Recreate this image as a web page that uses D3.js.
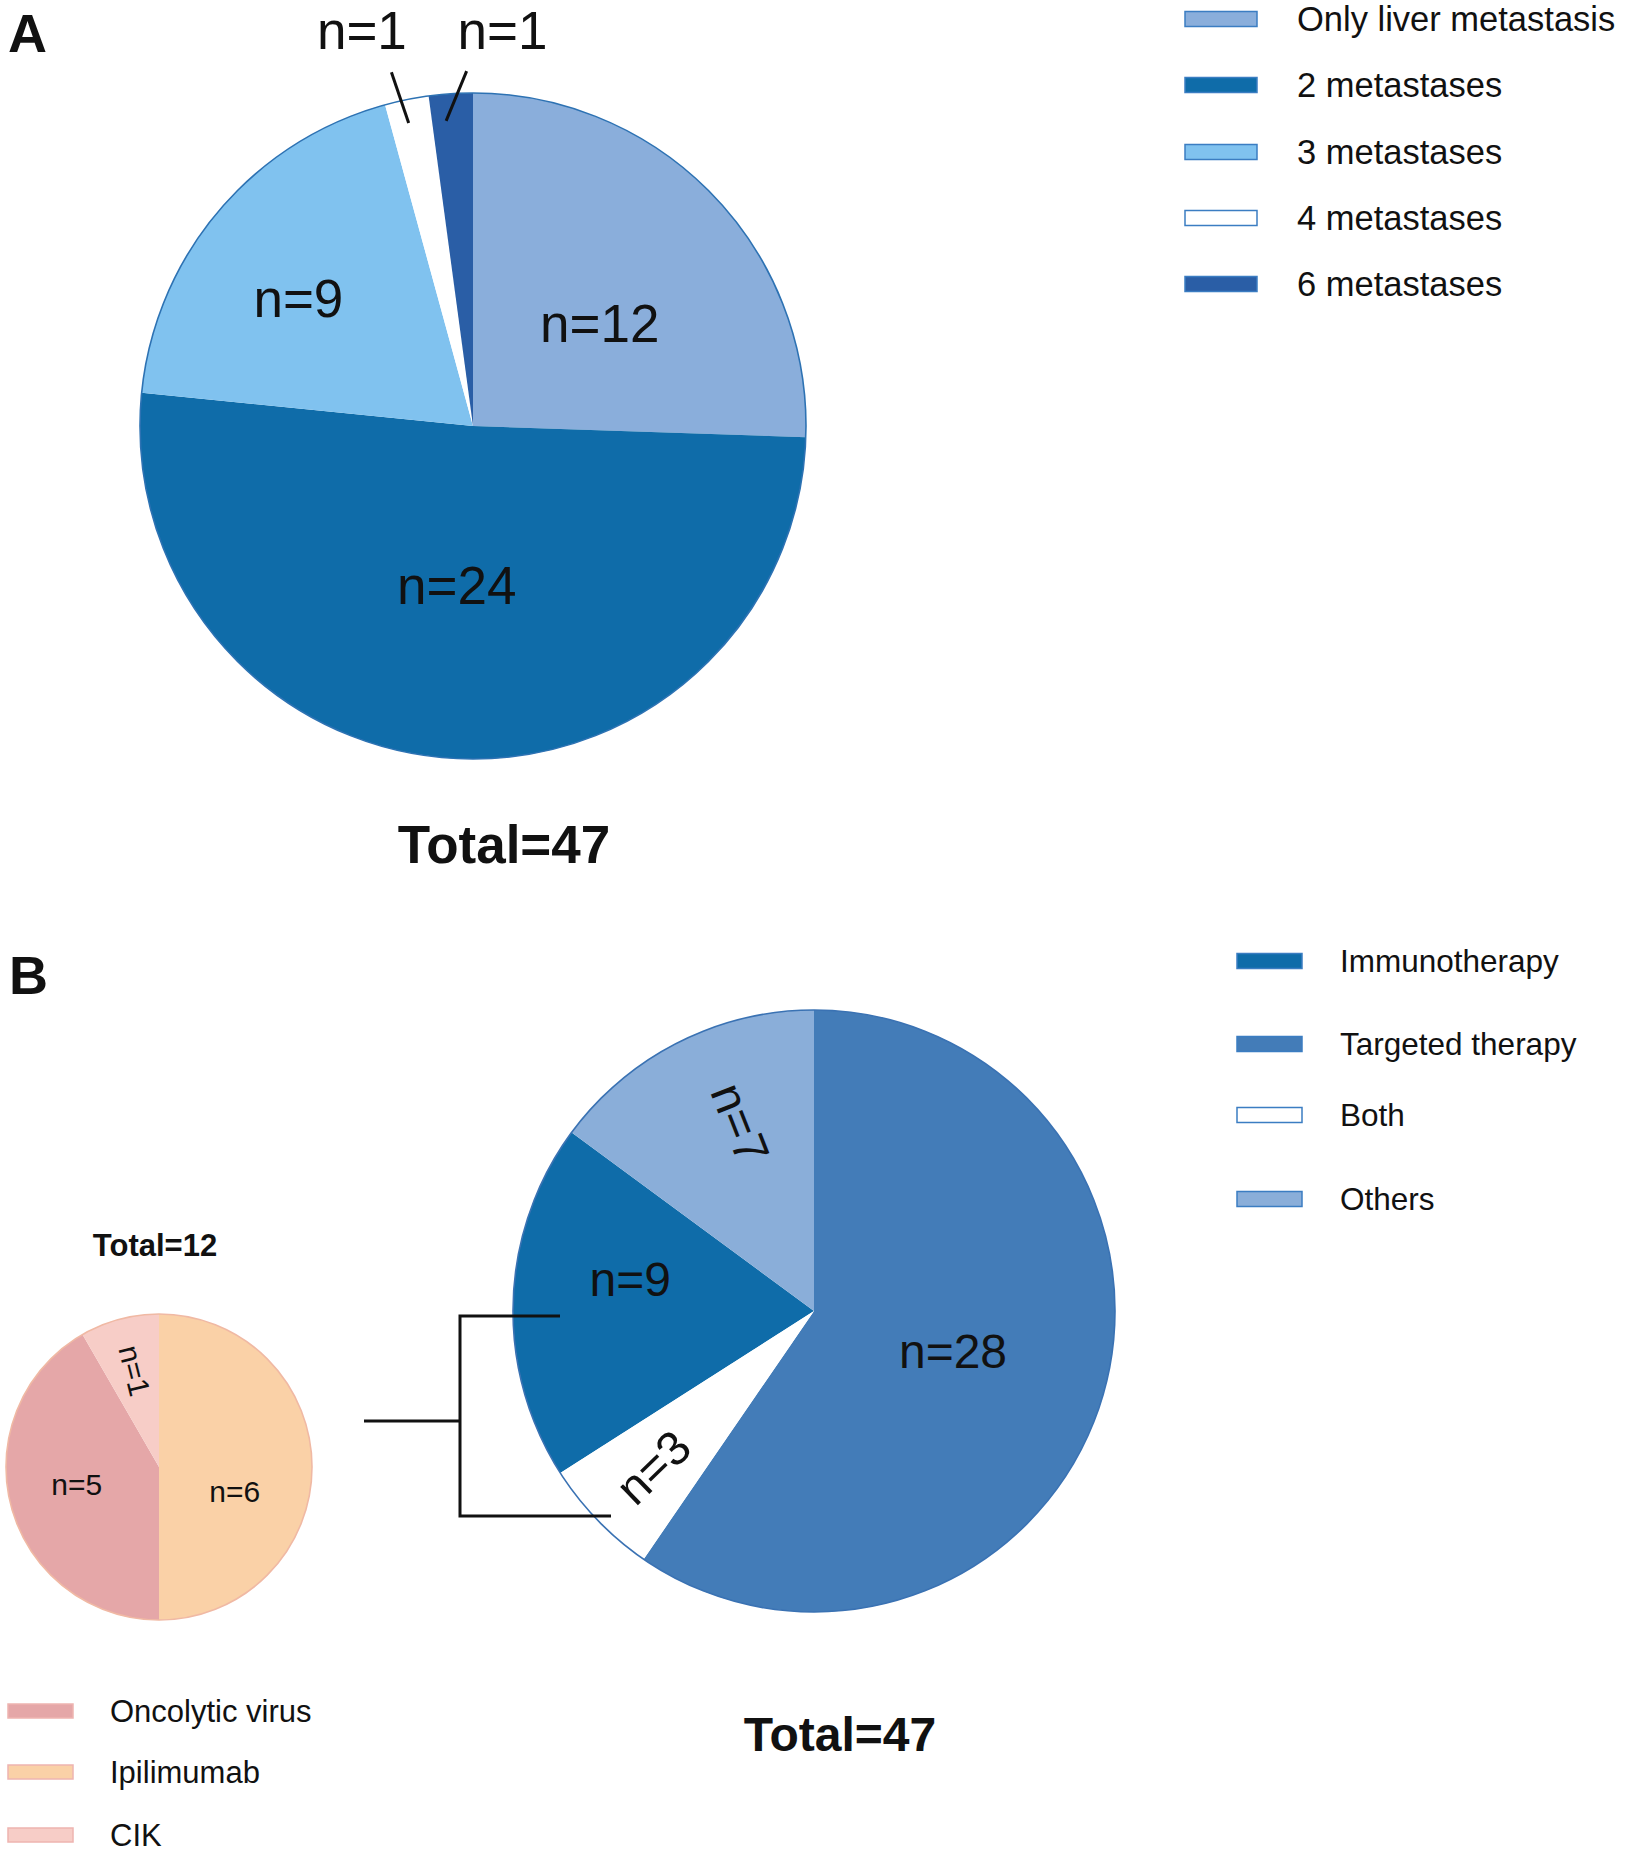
<!DOCTYPE html>
<html>
<head>
<meta charset="utf-8">
<script src="https://cdn.jsdelivr.net/npm/d3@7"></script>
<style>
  body { margin: 0; background: #fff; }
  text { font-family: 'Liberation Sans', Arial, Helvetica, sans-serif; fill: #111; }
</style>
</head>
<body>
<div id="chart"></div>
<script>
const width = 1625, height = 1857;

// Panel A: number of metastatic sites (legend order = slice order)
const metCategories = ['Only liver metastasis', '2 metastases', '3 metastases', '4 metastases', '6 metastases'];
const metCounts = [12, 24, 9, 1, 1];
const metColors = ['#8aaedb', '#0f6ca9', '#80c2ef', '#ffffff', '#2a5ea6'];

// Panel B: treatment received
const treatCategories = ['Immunotherapy', 'Targeted therapy', 'Both', 'Others'];
const treatCounts = [9, 28, 3, 7];
const treatColors = ['#0f6ca9', '#437cb8', '#ffffff', '#8aaed9'];
const treatSliceOrder = ['Targeted therapy', 'Both', 'Immunotherapy', 'Others'];

// Panel B inset: immunotherapy agents
const immunoCategories = ['Oncolytic virus', 'Ipilimumab', 'CIK'];
const immunoCounts = [5, 6, 1];
const immunoColors = ['#e5a7a8', '#fad1a7', '#f7cdc7'];
const immunoSliceOrder = ['Ipilimumab', 'Oncolytic virus', 'CIK'];

const toRows = (names, values, colors) => names.map((name, i) => ({ name, value: values[i], color: colors[i] }));

const svg = d3.select('#chart').append('svg')
  .attr('width', width)
  .attr('height', height);

const rad = (deg) => deg * Math.PI / 180;
const deg = (r) => r * 180 / Math.PI;

// point on a pie: angle clockwise from 12 o'clock
function polar(cx, cy, angle, r) {
  return [cx + r * Math.sin(rad(angle)), cy - r * Math.cos(rad(angle))];
}

function drawPie(opts) {
  const rows = toRows(opts.names, opts.values, opts.colors);
  const order = opts.order || opts.names;
  const pie = d3.pie()
    .value(d => d.value)
    .sort((a, b) => order.indexOf(a.name) - order.indexOf(b.name));
  const arcs = pie(rows);
  const arc = d3.arc().innerRadius(0).outerRadius(opts.r);

  const g = svg.append('g').attr('transform', `translate(${opts.cx},${opts.cy})`);
  g.selectAll('path')
    .data(arcs)
    .join('path')
      .attr('d', arc)
      .attr('fill', d => d.data.color);
  g.append('circle')
    .attr('r', opts.r)
    .attr('fill', 'none')
    .attr('stroke', opts.outline)
    .attr('stroke-width', 1.6);

  // labels inside the slices
  arcs.forEach(d => {
    const spec = opts.labels[d.data.name];
    if (!spec) return;
    const mid = deg((d.startAngle + d.endAngle) / 2);
    const a = mid + spec.da;
    const [x, y] = polar(0, 0, a, spec.k * opts.r);
    const rot = spec.radial ? a - 270 : 0;
    g.append('text')
      .attr('transform', `translate(${x},${y}) rotate(${rot})`)
      .attr('text-anchor', 'middle')
      .attr('dy', '0.36em')
      .style('font-size', opts.fontSize + 'px')
      .text('n=' + d.data.value);
  });

  // outside labels with leader lines
  (opts.callouts || []).forEach(c => {
    const d = arcs.find(e => e.data.name === c.name);
    const mid = deg((d.startAngle + d.endAngle) / 2);
    const p0 = polar(0, 0, mid + c.da0, c.k0 * opts.r);
    const p1 = polar(0, 0, mid + c.da1, c.k1 * opts.r);
    g.append('line')
      .attr('x1', p0[0]).attr('y1', p0[1])
      .attr('x2', p1[0]).attr('y2', p1[1])
      .attr('stroke', '#111')
      .attr('stroke-width', 3);
    const [tx, ty] = polar(0, 0, mid + c.daText, c.kText * opts.r);
    g.append('text')
      .attr('x', tx).attr('y', ty)
      .attr('text-anchor', 'middle')
      .attr('dy', '0.36em')
      .style('font-size', opts.fontSize + 'px')
      .text('n=' + d.data.value);
  });
}

function drawLegend(opts) {
  const rows = toRows(opts.names, opts.names.map(() => 0), opts.colors);
  const g = svg.append('g');
  const item = g.selectAll('g')
    .data(rows)
    .join('g')
      .attr('transform', (d, i) => `translate(${opts.x},${opts.ys[i]})`);
  item.append('rect')
    .attr('x', 0)
    .attr('y', -opts.h / 2)
    .attr('width', opts.w)
    .attr('height', opts.h)
    .attr('fill', d => d.color)
    .attr('stroke', opts.stroke)
    .attr('stroke-width', 1.5);
  item.append('text')
    .attr('x', opts.textX)
    .attr('dy', '0.36em')
    .style('font-size', opts.fontSize + 'px')
    .text(d => d.name);
}

function heading(x, y, str, size, anchor) {
  svg.append('text')
    .attr('x', x).attr('y', y)
    .attr('text-anchor', anchor || 'start')
    .style('font-size', size + 'px')
    .style('font-weight', 'bold')
    .text(str);
}

// ---------- Panel A ----------
heading(8, 52, 'A', 54);

drawPie({
  cx: 473, cy: 426, r: 333,
  names: metCategories, values: metCounts, colors: metColors,
  outline: '#2d72b3', fontSize: 53,
  labels: {
    'Only liver metastasis': { da: 5, k: 0.49 },
    '2 metastases': { da: 2, k: 0.48 },
    '3 metastases': { da: -4, k: 0.65 }
  },
  callouts: [
    { name: '4 metastases', da0: -0.5, k0: 0.93, da1: -1.5, k1: 1.09, daText: -4.2, kText: 1.234 },
    { name: '6 metastases', da0: -1.2, k0: 0.92, da1: 2.8, k1: 1.066, daText: 8.1, kText: 1.192 }
  ]
});

drawLegend({
  names: metCategories, colors: metColors,
  x: 1185, ys: [19, 85, 152, 218, 284], w: 72, h: 15,
  stroke: '#3b7dc2', textX: 112, fontSize: 34.5
});

heading(504, 863, 'Total=47', 53, 'middle');

// ---------- Panel B ----------
heading(9, 994, 'B', 54);

drawPie({
  cx: 814, cy: 1311, r: 301,
  names: treatCategories, values: treatCounts, colors: treatColors,
  order: treatSliceOrder, outline: '#3a72b3', fontSize: 48,
  labels: {
    'Targeted therapy': { da: -1.4, k: 0.48 },
    'Both': { da: 0, k: 0.745, radial: true },
    'Immunotherapy': { da: 8, k: 0.62 },
    'Others': { da: 5.5, k: 0.67, radial: true }
  }
});

drawLegend({
  names: treatCategories, colors: treatColors,
  x: 1237, ys: [961, 1044, 1115, 1199], w: 65, h: 15,
  stroke: '#3b7dc2', textX: 103, fontSize: 31.5
});

heading(840, 1751, 'Total=47', 48, 'middle');

// inset pie of immunotherapy agents
heading(155, 1256, 'Total=12', 31, 'middle');

drawPie({
  cx: 159, cy: 1467, r: 153,
  names: immunoCategories, values: immunoCounts, colors: immunoColors,
  order: immunoSliceOrder, outline: '#f0b9a4', fontSize: 30,
  labels: {
    'Ipilimumab': { da: 18, k: 0.52 },
    'Oncolytic virus': { da: 3, k: 0.55 },
    'CIK': { da: 1, k: 0.65, radial: true }
  }
});

drawLegend({
  names: immunoCategories, colors: immunoColors,
  x: 8, ys: [1711, 1772, 1835], w: 65, h: 14,
  stroke: '#eeb4b0', textX: 102, fontSize: 31
});

// bracket linking the inset to the immunotherapy slices
const bracket = d3.path();
bracket.moveTo(364, 1421); bracket.lineTo(460, 1421);
bracket.moveTo(560, 1316); bracket.lineTo(460, 1316);
bracket.lineTo(460, 1516); bracket.lineTo(611, 1516);
svg.append('path')
  .attr('d', bracket.toString())
  .attr('fill', 'none')
  .attr('stroke', '#111')
  .attr('stroke-width', 3);
</script>
</body>
</html>
